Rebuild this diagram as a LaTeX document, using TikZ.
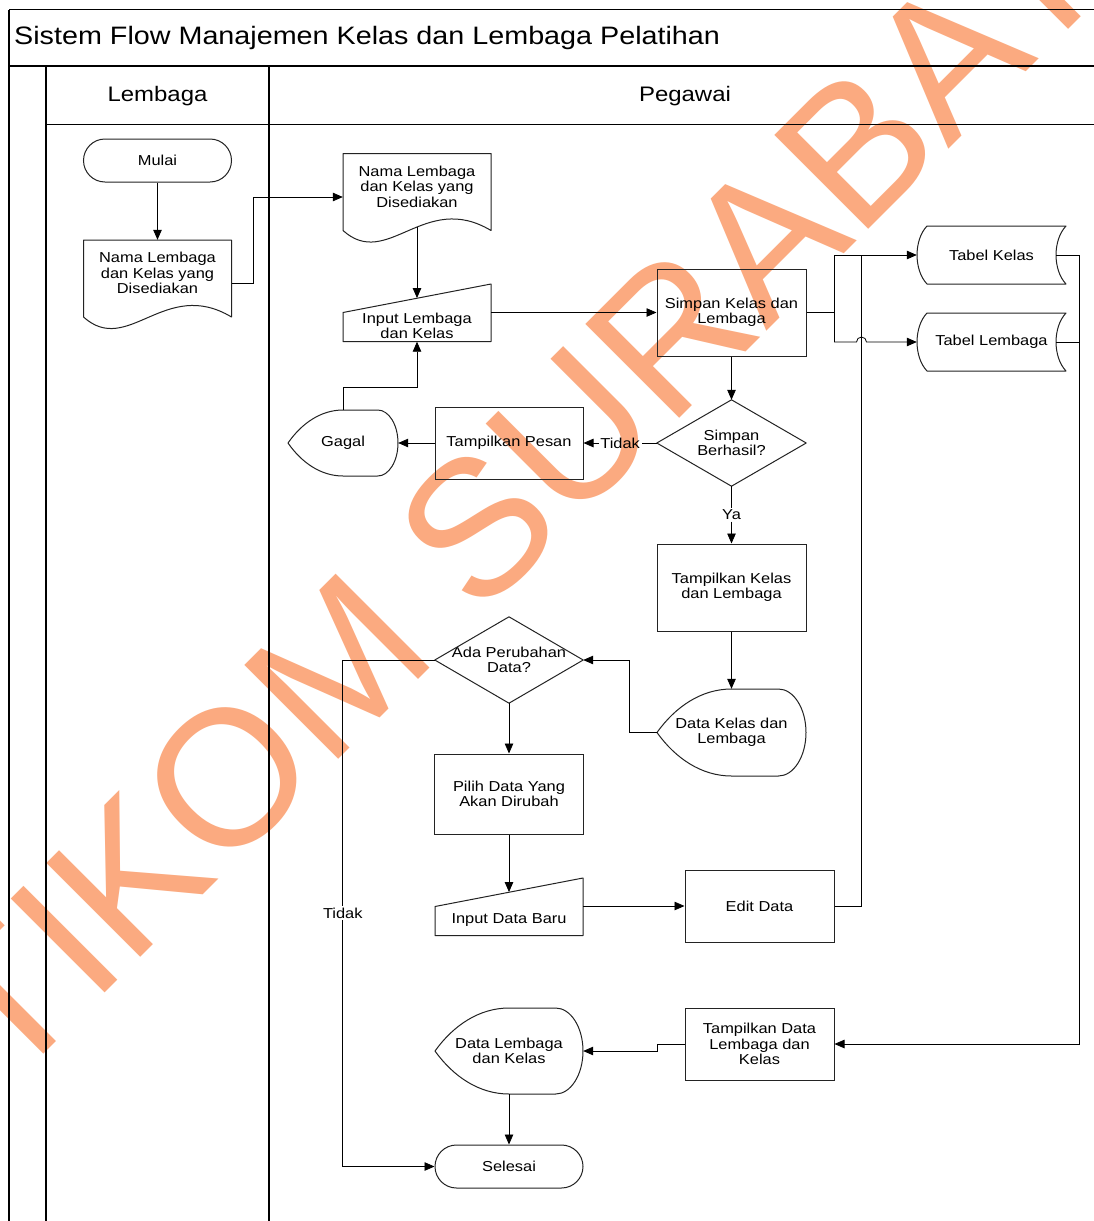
\documentclass[tikz,border=0pt]{standalone}
\usepackage{fontspec}
\setmainfont{Liberation Sans}[FakeStretch=1.14]
\newfontfamily\wmfont{Liberation Sans}
\usetikzlibrary{arrows.meta,calc}
\definecolor{wmcol}{RGB}{251,170,128}
\definecolor{shp}{RGB}{35,35,35}
\newcommand\flowfont{\fontsize{14.4}{15.5}\selectfont}
\newcommand\titlefont{\fontsize{25.2}{28}\selectfont}
\newcommand\headfont{\fontsize{21}{24}\selectfont}
\newcommand\wmsize{\fontsize{193}{193}\selectfont}
% outlines drawn around invisible text nodes
\newcommand\docout[1]{\draw[shapeline,shift={(#1.center)}] (-74,44) -- (-74,-33) -- (74,-33) -- (74,44) .. controls (7.4,4) and (-29.6,84) .. (-74,44) -- cycle;}
\newcommand\inout[1]{\draw[shapeline,shift={(#1.center)}] (-74,15.5) -- (-74,-13.5) -- (74,-42) -- (74,15.5) -- cycle;}
\newcommand\dispout[3]{\draw[shapeline,shift={(#1.center)}] (-#2,0) .. controls ({-0.75*#2},{-0.6*#3}) and ({-0.4*#2},-#3) .. (0,-#3) -- ({0.63*#2},-#3) .. controls ({0.834*#2},-#3) and (#2,{-0.552*#3}) .. (#2,0) .. controls (#2,{0.552*#3}) and ({0.834*#2},#3) .. ({0.63*#2},#3) -- (0,#3) .. controls ({-0.4*#2},#3) and ({-0.75*#2},{0.6*#3}) .. (-#2,0) -- cycle;}
\newcommand\storeout[1]{\draw[shapeline,shift={(#1.center)}] (-64.5,-29) -- (74.5,-29) .. controls (61.2,-15) and (61.2,15) .. (74.5,29) -- (-64.5,29) .. controls (-77.8,15) and (-77.8,-15) .. (-64.5,-29) -- cycle;}
\newcommand\diaout[1]{\draw[shapeline] (#1.north) -- (#1.east) -- (#1.south) -- (#1.west) -- cycle;}
\begin{document}
\begin{tikzpicture}[x=1pt,y=-1pt,
  txt/.style={font=\flowfont, align=center, inner sep=0pt, text=black},
  proc/.style={txt, draw=shp, line width=1pt, minimum width=149pt},
  term/.style={txt, draw=shp, line width=1pt, rounded corners=21.5pt, minimum width=148pt, minimum height=43pt},
  ghost/.style={txt},
  shapeline/.style={draw=shp, line width=1pt, line join=round},
  conn/.style={draw=black, line width=0.8pt},
  arr/.style={conn, -{Triangle[length=10pt,width=8.5pt]}},
  lbl/.style={font=\flowfont, inner sep=1.5pt},
  lane/.style={draw=black, line width=1.3pt},
]
\useasboundingbox (0,0) rectangle (1094,1221);
\fill[white] (0,0) rectangle (1094,1221);

% watermark
\node[font=\wmfont\wmsize, text=wmcol, inner sep=0pt, rotate=45, anchor=base west] (wm) at (-82.5,1180.5) {STIKOM SURABAYA};

% swimlane frame
\draw[lane, line width=1.2pt] (9,9.5) -- (1094,9.5);
\draw[lane, line width=1.2pt] (9,9.5) -- (9,1221);
\draw[lane, line width=2pt] (9,66) -- (1094,66);
\draw[lane] (46,66) -- (46,1221);
\draw[lane] (269,66) -- (269,1221);
\draw[lane, line width=1pt] (46,124) -- (1094,124);
\node[font=\titlefont, inner sep=0pt, anchor=base west] (title) at (14,44.5) {Sistem Flow Manajemen Kelas dan Lembaga Pelatihan};
\node[font=\headfont, inner sep=0pt, anchor=base] (hlem) at (157.5,101.5) {Lembaga};
\node[font=\headfont, inner sep=0pt, anchor=base] (hpeg) at (685,101.5) {Pegawai};

% nodes
\node[term] (mulai) at (157.5,160.5) {Mulai};
\node[ghost, minimum width=149pt, minimum height=66pt] (doc1) at (157.5,273) {Nama Lembaga\\dan Kelas yang\\Disediakan};
\node[ghost, minimum width=148pt, minimum height=66pt] (doc2) at (417,186.5) {Nama Lembaga\\dan Kelas yang\\Disediakan};
\node[ghost, minimum width=148pt, minimum height=31pt] (in1) at (417,326) {Input Lembaga\\dan Kelas};
\node[proc, minimum height=87pt] (simpan) at (731.5,312.5) {Simpan Kelas dan\\Lembaga};
\node[ghost, minimum width=149pt, minimum height=58pt] (tk) at (991.5,255) {Tabel Kelas};
\node[ghost, minimum width=149pt, minimum height=58pt] (tl) at (991.5,342) {Tabel Lembaga};
\node[ghost, minimum width=149pt, minimum height=86pt] (sb) at (731.5,443) {Simpan\\Berhasil?};
\node[proc, minimum width=148pt, minimum height=72pt] (tp) at (509,443) {Tampilkan Pesan};
\node[ghost, minimum width=110pt, minimum height=66pt] (gagal) at (343,443) {Gagal};
\node[proc, minimum height=87pt] (tkl) at (731.5,587.5) {Tampilkan Kelas\\dan Lembaga};
\node[ghost, minimum width=149pt, minimum height=87pt] (dkl) at (731.5,732.5) {Data Kelas dan\\Lembaga};
\node[ghost, minimum width=148pt, minimum height=86pt] (ada) at (509,660) {Ada Perubahan\\Data?};
\node[proc, minimum height=80pt] (pilih) at (509,794) {Pilih Data Yang\\Akan Dirubah};
\node[ghost, minimum width=148pt, minimum height=31pt] (idb) at (509,920) {Input Data Baru};
\node[proc, minimum height=72pt] (edit) at (759.5,906) {Edit Data};
\node[proc, minimum height=72pt] (tds) at (759.5,1044) {Tampilkan Data\\Lembaga dan\\Kelas};
\node[ghost, minimum width=148pt, minimum height=86pt] (dlk) at (509,1051) {Data Lembaga\\dan Kelas};
\node[term] (selesai) at (509,1166.5) {Selesai};

% outlines
\docout{doc1}
\docout{doc2}
\inout{in1}
\inout{idb}
\storeout{tk}
\storeout{tl}
\diaout{sb}
\diaout{ada}
\dispout{gagal}{55}{33}
\dispout{dkl}{74.5}{43.5}
\dispout{dlk}{74}{43}

% connectors
\draw[arr] (mulai.south) -- (doc1.north);
\draw[arr] ([yshift=-10pt]doc1.east) -- ++(21,0) |- ([yshift=-10.5pt]doc2.west);
\draw[arr] ([yshift=-7.5pt]doc2.south) -- ([yshift=12.25pt]in1.north);
\draw[arr] (in1.east |- simpan.west) -- (simpan.west);
\draw[conn] (simpan.east) -- ++(28,0) coordinate (j1);
\draw[arr] (j1) |- (tk.west);
\draw[conn] (edit.east) -- ++(27,0) coordinate (e1) -- (e1 |- tk.west);
\coordinate (hopc) at (e1 |- tl.west);
\draw[arr] (j1) |- ([xshift=-5pt]hopc) arc[start angle=180, end angle=0, radius=5pt] -- (tl.west);
\draw[arr] (simpan.south) -- (sb.north);
\path (sb.west) -- (tp.east) node[midway, lbl] (tdk1) {Tidak};
\draw[conn] (sb.west) -- (tdk1.east);
\draw[arr] (tdk1.west) -- (tp.east);
\draw[arr] (tp.west) -- (gagal.east);
\draw[arr] (gagal.north) -- ++(0,-22) -| (in1.south);
\path (sb.south) -- (tkl.north) node[midway, lbl] (ya) {Ya};
\draw[conn] (sb.south) -- (ya.north);
\draw[arr] (ya.south) -- (tkl.north);
\draw[arr] (tkl.south) -- (dkl.north);
\draw[arr] (dkl.west) -- ++(-27,0) |- (ada.east);
\draw[conn] (ada.west) -- ++(-92,0) coordinate (t1);
\path (t1) -- (t1 |- selesai.west) node[midway, lbl] (tdk2) {Tidak};
\draw[conn] (t1) -- (tdk2.north);
\draw[arr] (tdk2.south) |- (selesai.west);
\draw[arr] (ada.south) -- (pilih.north);
\draw[arr] (pilih.south) -- ([yshift=12.25pt]idb.north);
\draw[arr] (idb.east |- edit.west) -- (edit.west);
\draw[conn] ([xshift=-10pt]tk.east) -- ++(23,0) coordinate (r1);
\draw[conn] ([xshift=-10pt]tl.east) -- (r1 |- tl.east);
\draw[arr] (r1) |- (tds.east);
\draw[arr] (tds.west) -- ++(-27,0) |- (dlk.east);
\draw[arr] (dlk.south) -- (selesai.north);
\end{tikzpicture}
\end{document}
